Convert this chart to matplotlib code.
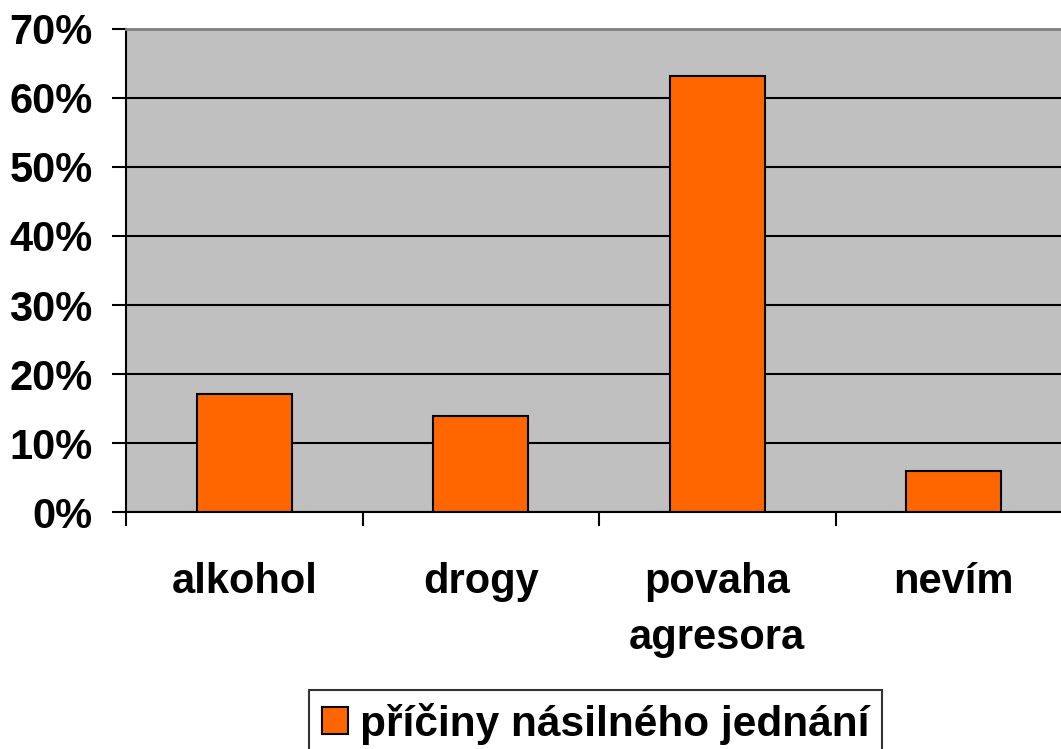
import matplotlib.pyplot as plt
from matplotlib.ticker import FuncFormatter

# ── Data ────────────────────────────────────────────────────────────────────
categories = ["alkohol", "drogy", "povaha\nagresora", "nevím"]
values = [17.1, 13.9, 63.2, 6.0]
series_name = "příčiny násilného jednání"
y_ticks = [0, 10, 20, 30, 40, 50, 60, 70]

plt.rcParams.update({"font.family": ["Liberation Sans", "DejaVu Sans"],
                     "font.weight": "bold"})

fig = plt.figure(figsize=(10.61, 7.49), dpi=100)
ax = fig.add_axes([0.1188, 0.3164, 0.8916, 0.6449])
ax.set_facecolor("#c0c0c0")

x = range(len(categories))
ax.bar(x, values, width=0.4, color="#ff6600", edgecolor="black",
       linewidth=1.5, label=series_name, zorder=3)

ax.set_xlim(-0.5, len(categories) - 0.5)
ax.set_ylim(0, 70)
ax.set_yticks(y_ticks)
ax.yaxis.set_major_formatter(FuncFormatter(lambda v, _: f"{v:.0f}%"))
ax.grid(axis="y", color="black", linewidth=1.5, zorder=1)

# category labels between boundary ticks
ax.set_xticks([i - 0.5 for i in range(len(categories) + 1)])
ax.set_xticklabels([])
ax.set_xticks(list(x), minor=True)
ax.set_xticklabels(categories, minor=True, fontsize=30, fontweight="bold",
                   linespacing=1.5)
ax.tick_params(axis="x", which="minor", length=0, pad=36)
ax.tick_params(axis="x", which="major", length=10, width=1.5, color="black")
ax.tick_params(axis="y", length=10, width=1.5, pad=14, labelsize=30)
for lbl in ax.get_yticklabels():
    lbl.set_fontweight("bold")

ax.spines["top"].set_color("#808080")
ax.spines["top"].set_linewidth(2)
ax.spines["right"].set_visible(False)
for s in ["left", "bottom"]:
    ax.spines[s].set_linewidth(1.5)
    ax.spines[s].set_color("black")

leg = fig.legend(loc="upper center", bbox_to_anchor=(0.5617, 0.0788),
                 frameon=True, fancybox=False, edgecolor="black",
                 prop={"size": 30.5, "weight": "bold"},
                 handlelength=0.6, handleheight=0.6, handletextpad=0.3,
                 borderpad=0.3, borderaxespad=0)
leg.get_frame().set_linewidth(1.5)

fig.savefig("out.png", dpi=100)
